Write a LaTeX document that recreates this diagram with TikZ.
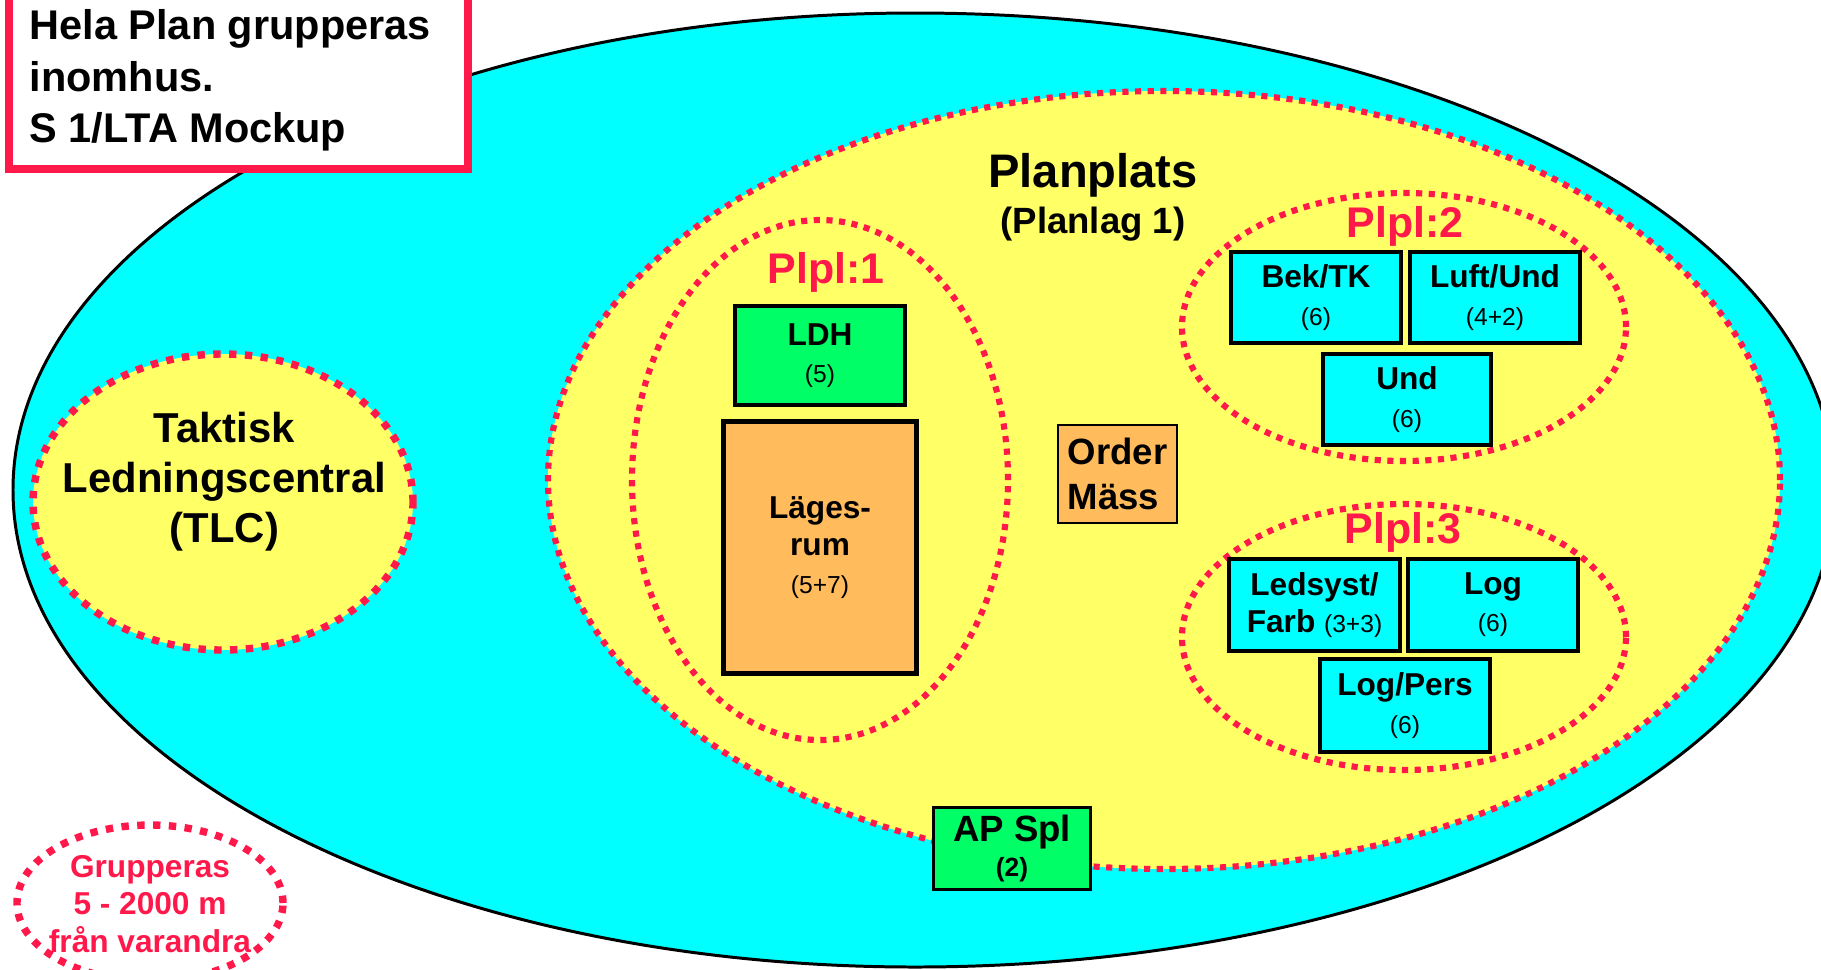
\documentclass[tikz,border=0pt]{standalone}
\usepackage{fontspec}
\setmainfont{Liberation Sans}
\usepackage{xcolor}
\usepackage{tikz}
\usetikzlibrary{shapes.geometric}

\definecolor{sky}{RGB}{0,255,255}
\definecolor{sand}{RGB}{255,255,102}
\definecolor{alarm}{RGB}{255,25,75}
\definecolor{grass}{RGB}{0,255,102}
\definecolor{peach}{RGB}{255,187,92}

\newcommand{\crew}[1]{{\fontsize{7}{8}\selectfont\mdseries #1}}

\begin{document}
\begin{tikzpicture}[
    ring/.style={ellipse, draw=alarm, line width=1.75pt, dash pattern=on 1.75pt off 1.85pt, inner sep=0pt},
    fatring/.style={ring, line width=2.1pt, dash pattern=on 2.1pt off 2.4pt},
    room/.style={draw, fill=sky, line width=1.15pt, inner sep=0pt, align=center, font=\fontsize{9}{10.6}\selectfont\bfseries},
    plpl/.style={text=alarm, anchor=base, inner sep=0pt, font=\fontsize{12.2}{14}\selectfont\bfseries}
]
    \useasboundingbox (0,0) rectangle (18.21,-9.69);
    \clip (0,0) rectangle (18.21,-9.69);

    % Outer area
    \draw[fill=sky, line width=0.85pt] (0.13,-4.90)
        arc[start angle=180, end angle=90, x radius=9.02, y radius=4.77]
        arc[start angle=90, end angle=-90, x radius=9.20, y radius=4.77]
        arc[start angle=-90, end angle=-180, x radius=9.02, y radius=4.77] -- cycle;

    % Note
    \node[draw=alarm, fill=white, line width=2.3pt, minimum width=4.59cm, minimum height=2.19cm, inner sep=0pt] (note) at (2.385,-0.595) {};
    \node[anchor=north west, align=left, inner sep=0pt, font=\fontsize{11.8}{14.6}\selectfont\bfseries] (notetxt) at (0.29,-0.09) {Hela Plan grupperas\\inomhus.\\S 1/LTA Mockup};

    % Planplats
    \node[ring, fill=sand, minimum width=12.32cm, minimum height=7.78cm] (plan) at (11.64,-4.80) {};
    \node[anchor=base, inner sep=0pt, font=\fontsize{13.4}{16}\selectfont\bfseries] (plantitle) at (10.93,-1.87) {Planplats};
    \node[anchor=base, inner sep=0pt, font=\fontsize{10.4}{12}\selectfont\bfseries] (plansub) at (10.93,-2.33) {(Planlag 1)};

    % TLC
    \node[fatring, fill=sand, minimum width=3.80cm, minimum height=2.96cm] (tlc) at (2.23,-5.02) {};
    \node[align=center, inner sep=0pt, font=\fontsize{11.9}{14.2}\selectfont\bfseries] (tlctxt) at (2.245,-4.815) {Taktisk\\Ledningscentral\\(TLC)};

    % Plpl:1
    \node[ring, minimum width=3.76cm, minimum height=5.20cm] (plpl1) at (8.20,-4.80) {};
    \node[plpl] (plpl1txt) at (8.26,-2.83) {Plpl:1};
    \node[room, fill=grass, line width=1pt, minimum width=1.70cm, minimum height=0.99cm] (ldh) at (8.20,-3.555) {LDH\\\crew{(5)}};
    \node[room, fill=peach, line width=1.4pt, minimum width=1.93cm, minimum height=2.52cm] (lage) at (8.20,-5.475) {Läges-\\rum\\\crew{(5+7)}};

    % Order
    \node[room, fill=peach, line width=0.8pt, minimum width=1.19cm, minimum height=0.98cm, align=left, font=\fontsize{10.4}{12.8}\selectfont\bfseries] (order) at (11.175,-4.74) {Order\\Mäss};

    % Plpl:2
    \node[ring, minimum width=4.44cm, minimum height=2.68cm] (plpl2) at (14.04,-3.27) {};
    \node[plpl] (plpl2txt) at (14.05,-2.37) {Plpl:2};
    \node[room, minimum width=1.70cm, minimum height=0.91cm] (bektk) at (13.16,-2.975) {Bek/TK\\\crew{(6)}};
    \node[room, minimum width=1.70cm, minimum height=0.91cm] (luftund) at (14.95,-2.975) {Luft/Und\\\crew{(4+2)}};
    \node[room, minimum width=1.68cm, minimum height=0.91cm] (und) at (14.07,-3.995) {Und\\\crew{(6)}};

    % Plpl:3
    \node[ring, minimum width=4.44cm, minimum height=2.66cm] (plpl3) at (14.04,-6.37) {};
    \node[plpl] (plpl3txt) at (14.03,-5.43) {Plpl:3};
    \node[room, minimum width=1.71cm, minimum height=0.92cm] (ledsyst) at (13.145,-6.05) {Ledsyst/\\Farb \crew{(3+3)}};
    \node[room, minimum width=1.70cm, minimum height=0.92cm] (log) at (14.93,-6.05) {Log\\\crew{(6)}};
    \node[room, minimum width=1.70cm, minimum height=0.93cm] (logpers) at (14.05,-7.055) {Log/Pers\\\crew{(6)}};

    % AP Spl
    \node[room, fill=grass, line width=0.85pt, minimum width=1.57cm, minimum height=0.82cm, font=\fontsize{10.4}{10}\selectfont\bfseries] (apspl) at (10.12,-8.485) {AP Spl\\{\fontsize{7.5}{8}\selectfont(2)}};

    % Spread
    \node[fatring, minimum width=2.66cm, minimum height=1.56cm] (spread) at (1.50,-9.03) {};
    \node[align=center, inner sep=0pt, text=alarm, font=\fontsize{9}{10.7}\selectfont\bfseries] (spreadtxt) at (1.50,-9.04) {Grupperas\\5 - 2000 m\\från varandra};
\end{tikzpicture}
\end{document}
